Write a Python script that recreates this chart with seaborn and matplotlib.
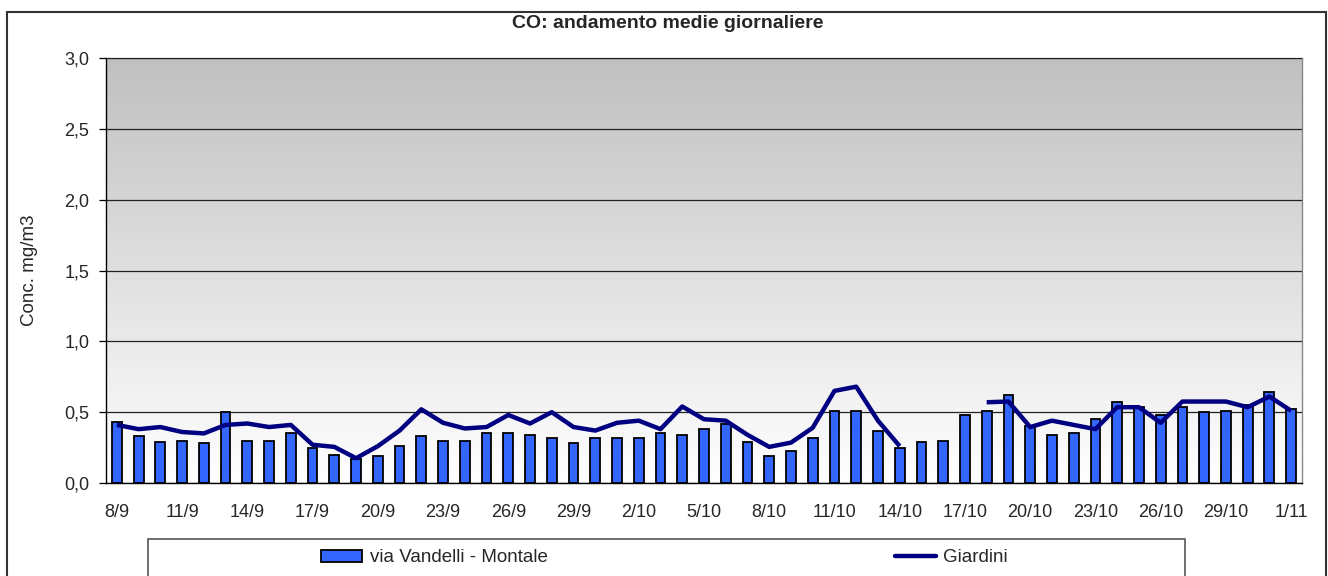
import numpy as np
import pandas as pd
import matplotlib
matplotlib.use("Agg")
import matplotlib.pyplot as plt
from matplotlib.patches import Rectangle
from matplotlib.lines import Line2D
from matplotlib.patches import Patch
import seaborn as sns

# ---- data ----
dates = (["%d/9" % d for d in range(8, 31)] +
         ["%d/10" % d for d in range(1, 32)] + ["1/11"])
vandelli = [0.43, 0.33, 0.29, 0.30, 0.28, 0.50, 0.30, 0.30, 0.355, 0.25,
            0.20, 0.17, 0.19, 0.26, 0.33, 0.30, 0.30, 0.355, 0.355, 0.34,
            0.315, 0.28, 0.315, 0.315, 0.315, 0.355, 0.34, 0.38, 0.42, 0.29,
            0.19, 0.225, 0.315, 0.505, 0.505, 0.37, 0.25, 0.29, 0.30, 0.48,
            0.505, 0.62, 0.40, 0.34, 0.355, 0.455, 0.57, 0.54, 0.48, 0.535,
            0.50, 0.505, 0.55, 0.645, 0.52]
giardini = [0.41, 0.38, 0.395, 0.36, 0.35, 0.41, 0.42, 0.395, 0.41, 0.27,
            0.255, 0.175, 0.26, 0.37, 0.52, 0.425, 0.385, 0.395, 0.48, 0.42,
            0.50, 0.395, 0.37, 0.425, 0.44, 0.38, 0.54, 0.45, 0.44, 0.34,
            0.255, 0.285, 0.39, 0.65, 0.68, 0.44, 0.26, np.nan, np.nan, np.nan,
            0.57, 0.575, 0.395, 0.44, 0.41, 0.38, 0.535, 0.535, 0.425, 0.575,
            0.575, 0.575, 0.535, 0.61, 0.51]
yticks = [0.0, 0.5, 1.0, 1.5, 2.0, 2.5, 3.0]
title = "CO: andamento medie giornaliere"
ylabel = "Conc. mg/m3"
bar_name = "via Vandelli - Montale"
line_name = "Giardini"

sns.set_style("white")
plt.rcParams['font.family'] = ['Liberation Sans', 'DejaVu Sans']

W, H = 1328, 576
fig = plt.figure(figsize=(W / 100, H / 100), dpi=100)
ax = fig.add_axes([106 / W, 1 - 483 / H, (1302 - 106) / W, (483 - 58) / H])

# gradient background
grad = np.linspace(1.0, 0.0, 256).reshape(-1, 1)
cmap = matplotlib.colors.LinearSegmentedColormap.from_list("g", ["#ffffff", "#c0c0c0"])
ax.imshow(grad, cmap=cmap, aspect="auto", extent=[0, 1, 0, 1],
          transform=ax.transAxes, zorder=0, origin="upper", vmin=0, vmax=1)

df = pd.DataFrame({"date": dates, "v": vandelli, "g": giardini})
df["pos"] = np.arange(len(df))

sns.barplot(data=df, x="date", y="v", ax=ax, color="#3366ff", width=0.45,
            edgecolor="black", linewidth=1.3, saturation=1, zorder=3)

# line segments (gap where data missing)
seg = df["g"].isna().cumsum()
for _, part in df[df["g"].notna()].groupby(seg[df["g"].notna()]):
    sns.lineplot(data=part, x="pos", y="g", ax=ax, color="#000080",
                 linewidth=3.2, zorder=4, solid_capstyle="butt")

ax.set_xlim(-0.5, len(dates) - 0.5)
ax.set_ylim(0, 3.0)
ax.set_yticks(yticks)
ax.set_yticklabels([("%.1f" % t).replace(".", ",") for t in yticks])
ax.yaxis.grid(True, color="#222222", linewidth=0.9, zorder=1)
ax.set_axisbelow(False)
for l in ax.get_ygridlines():
    l.set_zorder(1)

ax.set_xticks(np.arange(0, len(dates), 3))
ax.set_xticklabels(dates[::3])
ax.set_xticks(np.arange(-0.5, len(dates), 1), minor=True)
ax.tick_params(axis="x", which="major", length=0, pad=15, labelsize=13)
ax.tick_params(axis="x", which="minor", length=5, width=0.9, color="black", direction="out")
ax.tick_params(axis="y", which="major", length=5, width=0.9, color="black",
               direction="out", labelsize=13, left=True, pad=7)
ax.set_xlabel("")
ax.set_ylabel(ylabel, fontsize=13.5)
ax.yaxis.set_label_coords(-76 / (1302 - 106), 0.5)
ax.yaxis.label.set_va("center")

for s in ["left", "bottom"]:
    ax.spines[s].set_color("black")
    ax.spines[s].set_linewidth(1.0)
for s in ["top", "right"]:
    ax.spines[s].set_color("#888888")
    ax.spines[s].set_linewidth(1.0)

fig.text(0.503, 1 - 28.5 / H, title, ha="center", va="baseline",
         fontsize=14, fontweight="bold")

# outer border
fig.add_artist(Rectangle((7 / W, -0.05), (1326 - 7) / W, 1.05 - 12 / H,
                         transform=fig.transFigure, fill=False,
                         edgecolor="#333333", linewidth=1.5, clip_on=False))
# legend box
fig.add_artist(Rectangle((148 / W, -0.05), (1185 - 148) / W, 0.05 + (576 - 539) / H,
                         transform=fig.transFigure, fill=False,
                         edgecolor="#555555", linewidth=1.2, clip_on=False))
handles = [Patch(facecolor="#3366ff", edgecolor="black", linewidth=1.3),
           Line2D([0], [0], color="#000080", linewidth=3.2)]
fig.legend(handles, [bar_name, line_name], loc="center left",
           bbox_to_anchor=(321 / W, 1 - 558 / H), ncol=2, frameon=False,
           fontsize=13.5, handlelength=2.2, handleheight=0.55, handletextpad=0.4,
           columnspacing=18.5, borderaxespad=0, borderpad=0)

fig.savefig("out.png", dpi=100, facecolor="white")
